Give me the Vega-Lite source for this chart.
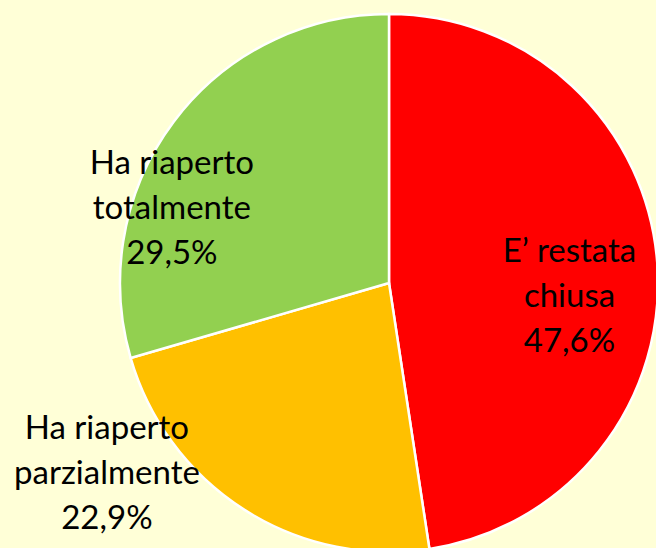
{
  "$schema": "https://vega.github.io/schema/vega-lite/v6.json",
  "width": 778,
  "height": 566,
  "padding": 0,
  "autosize": {"type": "none"},
  "background": "#FFFFD7",
  "config": {"view": {"stroke": null}},
  "data": {
    "values": [
      {"cat": "E’ restata chiusa", "value": 47.6, "order": 1, "label": "E’ restata\nchiusa\n47,6%"},
      {"cat": "Ha riaperto parzialmente", "value": 22.9, "order": 2, "label": "Ha riaperto\nparzialmente\n22,9%"},
      {"cat": "Ha riaperto totalmente", "value": 29.5, "order": 3, "label": "Ha riaperto\ntotalmente\n29,5%"}
    ]
  },
  "encoding": {
    "theta": {"field": "value", "type": "quantitative", "stack": true},
    "order": {"field": "order", "type": "quantitative", "sort": "ascending"}
  },
  "layer": [
    {
      "mark": {"type": "arc", "outerRadius": 269, "stroke": "white", "strokeWidth": 2.5},
      "encoding": {
        "color": {
          "field": "cat",
          "type": "nominal",
          "scale": {"domain": ["E’ restata chiusa", "Ha riaperto parzialmente", "Ha riaperto totalmente"], "range": ["#FF0000", "#FFC000", "#92D050"]},
          "legend": null
        }
      }
    },
    {
      "mark": {"type": "text", "radius": 181, "dy": -17, "font": "Lato", "fontSize": 33, "lineHeight": 45, "lineBreak": "\n", "align": "center", "baseline": "middle", "color": "black"},
      "encoding": {"text": {"condition": {"test": "datum.order === 1", "field": "label"}, "value": ""}}
    },
    {
      "mark": {"type": "text", "radius": 340, "dx": -99, "dy": -140, "font": "Lato", "fontSize": 33, "lineHeight": 45, "lineBreak": "\n", "align": "center", "baseline": "middle", "color": "black"},
      "encoding": {"text": {"condition": {"test": "datum.order === 2", "field": "label"}, "value": ""}}
    },
    {
      "mark": {"type": "text", "radius": 229, "dx": -34, "dy": 18, "font": "Lato", "fontSize": 33, "lineHeight": 45, "lineBreak": "\n", "align": "center", "baseline": "middle", "color": "black"},
      "encoding": {"text": {"condition": {"test": "datum.order === 3", "field": "label"}, "value": ""}}
    }
  ]
}
